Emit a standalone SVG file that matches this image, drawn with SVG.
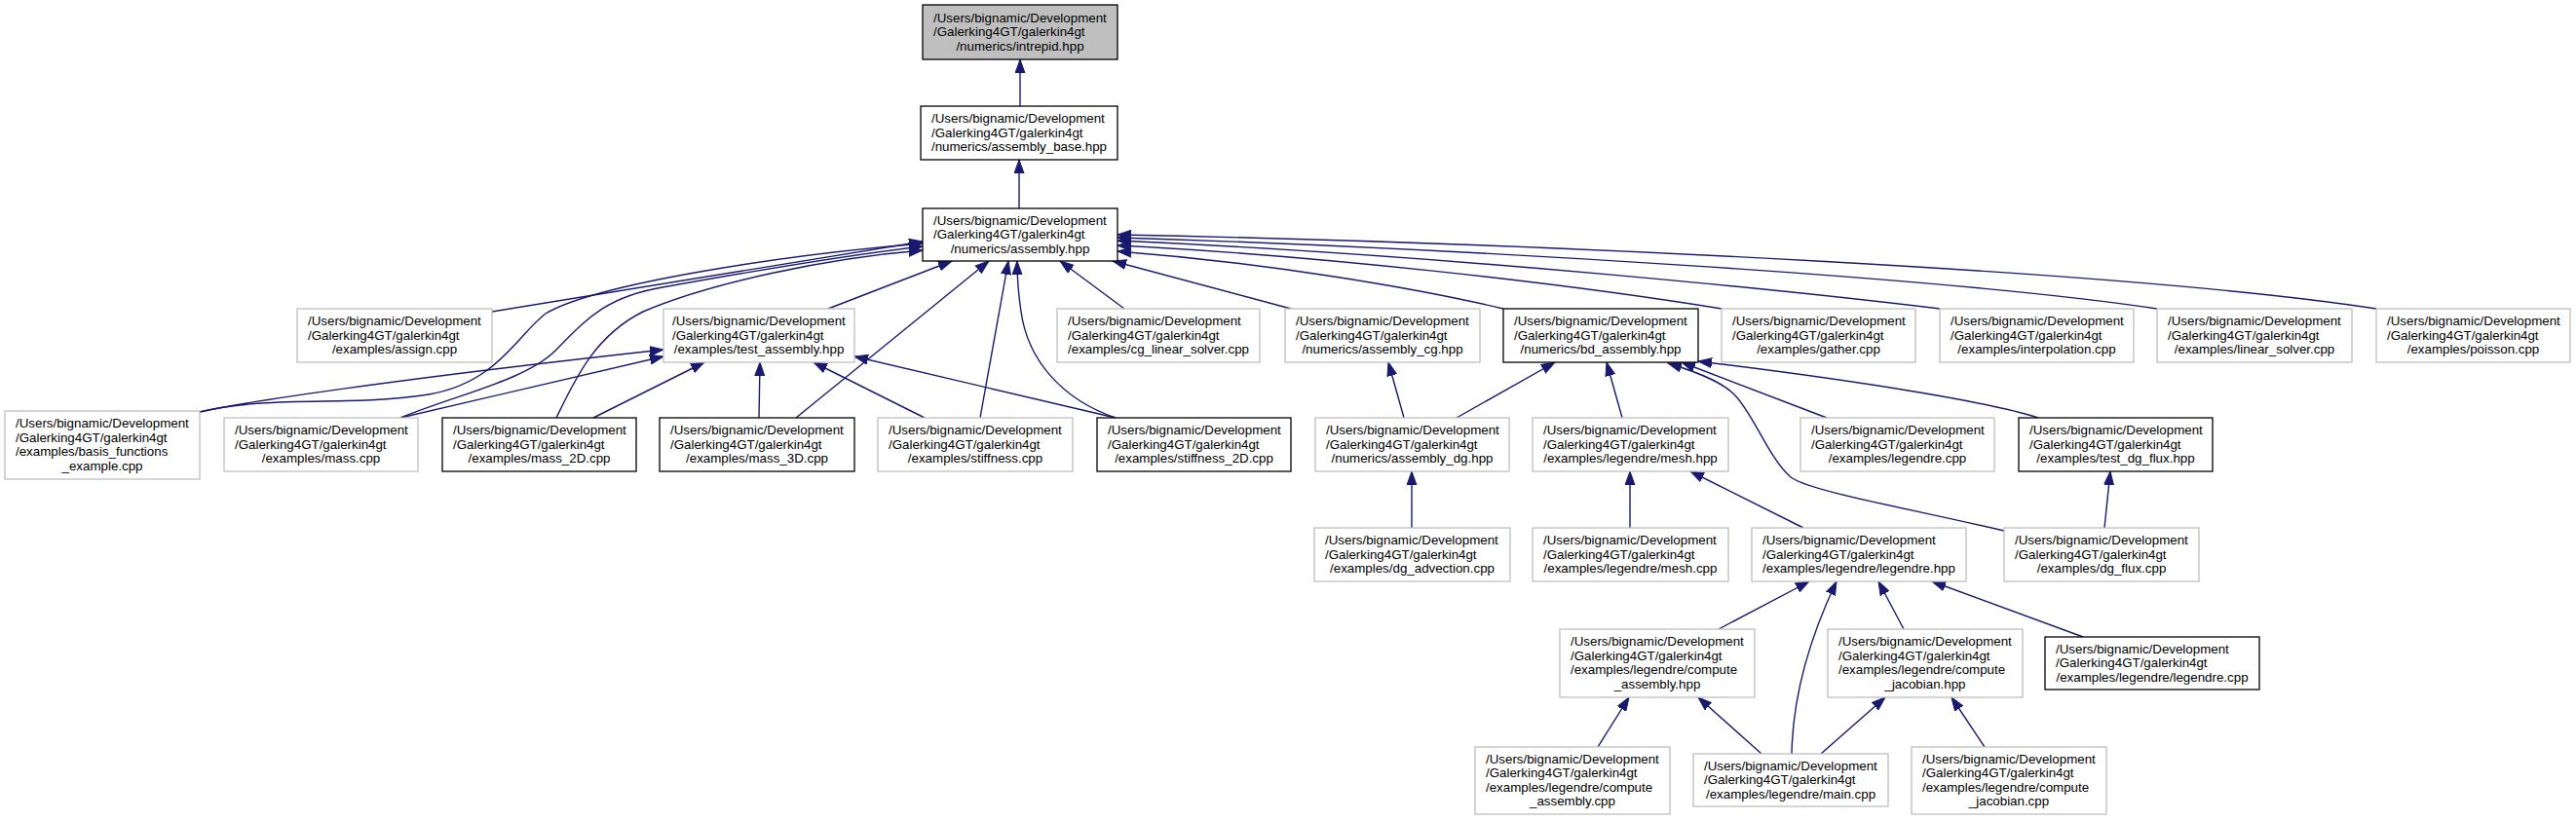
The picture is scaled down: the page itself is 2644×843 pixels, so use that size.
<svg xmlns="http://www.w3.org/2000/svg" width="2644" height="843" viewBox="0 0 2644 843">
<style>
rect{fill:#fff;stroke-width:1.3}
.nb rect{stroke:#000}
.ng rect{stroke:#bfbfbf}
text{font-family:"Liberation Sans",Arial,Helvetica,sans-serif;font-size:13.33px;fill:#000}
.c{text-anchor:middle}
#edges path{fill:none;stroke:#191970;stroke-width:1.4;marker-end:url(#a)}
</style>
<defs>
<marker id="a" markerUnits="userSpaceOnUse" markerWidth="15" markerHeight="11" viewBox="0 0 15 11" refX="14" refY="5.5" orient="auto">
<path d="M0,0.5 L14,5.5 L0,10.5 z" fill="#191970" stroke="#191970" stroke-width="1"/>
</marker>
</defs>
<rect x="0" y="0" width="2644" height="843" style="fill:#fff;stroke:none"/>
<g id="edges">
<path d="M1047,109 L1047,61"/>
<path d="M1046,214 L1046,164"/>
<path d="M505,320 L947,248"/>
<path d="M205,423 C280,405 360,418 440,405 C510,393 530,345 560,322 C610,292 800,262 947,250"/>
<path d="M411,429 C470,405 540,390 570,360 C600,330 620,305 680,295 C780,277 870,262 947,253"/>
<path d="M571,429 C590,390 610,345 660,320 C730,290 850,265 947,257"/>
<path d="M850,317 L977,268"/>
<path d="M817,429 L1015,268"/>
<path d="M1006,429 L1035,268"/>
<path d="M1145,429 C1090,410 1055,370 1048,320 C1045,300 1044,285 1044,268"/>
<path d="M1154,317 L1088,268"/>
<path d="M1325,317 L1142,268"/>
<path d="M1543,317 C1450,295 1300,270 1147,258"/>
<path d="M1767,317 C1600,290 1350,262 1147,252"/>
<path d="M1991,317 C1850,300 1500,263 1147,247"/>
<path d="M2214,317 C2000,285 1500,255 1147,244"/>
<path d="M2439,317 C2200,280 1600,250 1147,241"/>
<path d="M205,423 C250,413 400,390 681,359"/>
<path d="M411,429 L681,366"/>
<path d="M609,429 L723,372"/>
<path d="M779,429 L780,372"/>
<path d="M949,429 L835,372"/>
<path d="M1145,429 L877,366"/>
<path d="M1441,429 L1425,372"/>
<path d="M1495,429 L1596,372"/>
<path d="M1665,429 L1649,372"/>
<path d="M1875,429 L1726,372"/>
<path d="M2092,429 C2040,412 1900,390 1743,371"/>
<path d="M2057,545 C1950,520 1860,505 1838,490 C1815,470 1800,425 1780,405 C1765,390 1735,380 1712,373"/>
<path d="M1449,542 L1449,484"/>
<path d="M1673,542 L1673,484"/>
<path d="M1851,542 L1735,484"/>
<path d="M2160,542 L2166,484"/>
<path d="M1764,646 L1857,597"/>
<path d="M1839,774 C1840,720 1855,660 1885,597"/>
<path d="M1954,646 L1928,597"/>
<path d="M2138,654 L1983,597"/>
<path d="M1640,767 L1672,716"/>
<path d="M1808,774 L1743,716"/>
<path d="M1869,774 L1935,716"/>
<path d="M2037,767 L2003,716"/>
</g>

<g id="n_intrepid" class="nb"><rect x="947" y="5" width="200" height="56" style="fill:#bfbfbf"/><text><tspan x="958" y="22.5">/Users/bignamic/Development</tspan><tspan x="958" y="37">/Galerking4GT/galerkin4gt</tspan><tspan class="c" x="1047" y="51.5">/numerics/intrepid.hpp</tspan></text></g>
<g id="n_assembly_base" class="nb"><rect x="945" y="109" width="202" height="55"/><text><tspan x="956" y="126">/Users/bignamic/Development</tspan><tspan x="956" y="140.5">/Galerking4GT/galerkin4gt</tspan><tspan class="c" x="1046" y="155">/numerics/assembly_base.hpp</tspan></text></g>
<g id="n_assembly" class="nb"><rect x="947" y="214" width="200" height="54"/><text><tspan x="958" y="230.5">/Users/bignamic/Development</tspan><tspan x="958" y="245">/Galerking4GT/galerkin4gt</tspan><tspan class="c" x="1047" y="259.5">/numerics/assembly.hpp</tspan></text></g>

<g id="n_assign" class="ng"><rect x="305" y="317" width="200" height="55"/><text><tspan x="316" y="334">/Users/bignamic/Development</tspan><tspan x="316" y="348.5">/Galerking4GT/galerkin4gt</tspan><tspan class="c" x="405" y="363">/examples/assign.cpp</tspan></text></g>
<g id="n_test_assembly" class="ng"><rect x="681" y="317" width="196" height="55"/><text><tspan x="690" y="334">/Users/bignamic/Development</tspan><tspan x="690" y="348.5">/Galerking4GT/galerkin4gt</tspan><tspan class="c" x="779" y="363">/examples/test_assembly.hpp</tspan></text></g>
<g id="n_cg_linear_solver" class="ng"><rect x="1085" y="317" width="208" height="55"/><text><tspan x="1096" y="334">/Users/bignamic/Development</tspan><tspan x="1096" y="348.5">/Galerking4GT/galerkin4gt</tspan><tspan class="c" x="1189" y="363">/examples/cg_linear_solver.cpp</tspan></text></g>
<g id="n_assembly_cg" class="ng"><rect x="1319" y="317" width="200" height="55"/><text><tspan x="1330" y="334">/Users/bignamic/Development</tspan><tspan x="1330" y="348.5">/Galerking4GT/galerkin4gt</tspan><tspan class="c" x="1419" y="363">/numerics/assembly_cg.hpp</tspan></text></g>
<g id="n_bd_assembly" class="nb"><rect x="1543" y="317" width="200" height="55"/><text><tspan x="1554" y="334">/Users/bignamic/Development</tspan><tspan x="1554" y="348.5">/Galerking4GT/galerkin4gt</tspan><tspan class="c" x="1643" y="363">/numerics/bd_assembly.hpp</tspan></text></g>
<g id="n_gather" class="ng"><rect x="1767" y="317" width="199" height="55"/><text><tspan x="1778" y="334">/Users/bignamic/Development</tspan><tspan x="1778" y="348.5">/Galerking4GT/galerkin4gt</tspan><tspan class="c" x="1866.5" y="363">/examples/gather.cpp</tspan></text></g>
<g id="n_interpolation" class="ng"><rect x="1991" y="317" width="199" height="55"/><text><tspan x="2002" y="334">/Users/bignamic/Development</tspan><tspan x="2002" y="348.5">/Galerking4GT/galerkin4gt</tspan><tspan class="c" x="2090.5" y="363">/examples/interpolation.cpp</tspan></text></g>
<g id="n_linear_solver" class="ng"><rect x="2214" y="317" width="200" height="55"/><text><tspan x="2225" y="334">/Users/bignamic/Development</tspan><tspan x="2225" y="348.5">/Galerking4GT/galerkin4gt</tspan><tspan class="c" x="2314" y="363">/examples/linear_solver.cpp</tspan></text></g>
<g id="n_poisson" class="ng"><rect x="2439" y="317" width="199" height="55"/><text><tspan x="2450" y="334">/Users/bignamic/Development</tspan><tspan x="2450" y="348.5">/Galerking4GT/galerkin4gt</tspan><tspan class="c" x="2538.5" y="363">/examples/poisson.cpp</tspan></text></g>

<g id="n_basis_functions" class="ng"><rect x="5" y="422" width="200" height="70"/><text><tspan x="16" y="439">/Users/bignamic/Development</tspan><tspan x="16" y="453.5">/Galerking4GT/galerkin4gt</tspan><tspan x="16" y="468">/examples/basis_functions</tspan><tspan class="c" x="105" y="482.5">_example.cpp</tspan></text></g>
<g id="n_mass" class="ng"><rect x="230" y="429" width="199" height="55"/><text><tspan x="241" y="446">/Users/bignamic/Development</tspan><tspan x="241" y="460.5">/Galerking4GT/galerkin4gt</tspan><tspan class="c" x="329.5" y="475">/examples/mass.cpp</tspan></text></g>
<g id="n_mass_2D" class="nb"><rect x="454" y="429" width="199" height="55"/><text><tspan x="465" y="446">/Users/bignamic/Development</tspan><tspan x="465" y="460.5">/Galerking4GT/galerkin4gt</tspan><tspan class="c" x="553.5" y="475">/examples/mass_2D.cpp</tspan></text></g>
<g id="n_mass_3D" class="nb"><rect x="677" y="429" width="200" height="55"/><text><tspan x="688" y="446">/Users/bignamic/Development</tspan><tspan x="688" y="460.5">/Galerking4GT/galerkin4gt</tspan><tspan class="c" x="777" y="475">/examples/mass_3D.cpp</tspan></text></g>
<g id="n_stiffness" class="ng"><rect x="901" y="429" width="200" height="55"/><text><tspan x="912" y="446">/Users/bignamic/Development</tspan><tspan x="912" y="460.5">/Galerking4GT/galerkin4gt</tspan><tspan class="c" x="1001" y="475">/examples/stiffness.cpp</tspan></text></g>
<g id="n_stiffness_2D" class="nb"><rect x="1126" y="429" width="199" height="55"/><text><tspan x="1137" y="446">/Users/bignamic/Development</tspan><tspan x="1137" y="460.5">/Galerking4GT/galerkin4gt</tspan><tspan class="c" x="1225.5" y="475">/examples/stiffness_2D.cpp</tspan></text></g>
<g id="n_assembly_dg" class="ng"><rect x="1350" y="429" width="199" height="55"/><text><tspan x="1361" y="446">/Users/bignamic/Development</tspan><tspan x="1361" y="460.5">/Galerking4GT/galerkin4gt</tspan><tspan class="c" x="1449.5" y="475">/numerics/assembly_dg.hpp</tspan></text></g>
<g id="n_mesh_hpp" class="ng"><rect x="1573" y="429" width="201" height="55"/><text><tspan x="1584" y="446">/Users/bignamic/Development</tspan><tspan x="1584" y="460.5">/Galerking4GT/galerkin4gt</tspan><tspan class="c" x="1673.5" y="475">/examples/legendre/mesh.hpp</tspan></text></g>
<g id="n_legendre_cpp" class="ng"><rect x="1848" y="429" width="199" height="55"/><text><tspan x="1859" y="446">/Users/bignamic/Development</tspan><tspan x="1859" y="460.5">/Galerking4GT/galerkin4gt</tspan><tspan class="c" x="1947.5" y="475">/examples/legendre.cpp</tspan></text></g>
<g id="n_test_dg_flux" class="nb"><rect x="2072" y="429" width="199" height="55"/><text><tspan x="2083" y="446">/Users/bignamic/Development</tspan><tspan x="2083" y="460.5">/Galerking4GT/galerkin4gt</tspan><tspan class="c" x="2171.5" y="475">/examples/test_dg_flux.hpp</tspan></text></g>

<g id="n_dg_advection" class="ng"><rect x="1349" y="542" width="201" height="55"/><text><tspan x="1360" y="559">/Users/bignamic/Development</tspan><tspan x="1360" y="573.5">/Galerking4GT/galerkin4gt</tspan><tspan class="c" x="1449.5" y="588">/examples/dg_advection.cpp</tspan></text></g>
<g id="n_mesh_cpp" class="ng"><rect x="1573" y="542" width="201" height="55"/><text><tspan x="1584" y="559">/Users/bignamic/Development</tspan><tspan x="1584" y="573.5">/Galerking4GT/galerkin4gt</tspan><tspan class="c" x="1673.5" y="588">/examples/legendre/mesh.cpp</tspan></text></g>
<g id="n_legendre_hpp" class="ng"><rect x="1798" y="542" width="220" height="55"/><text><tspan x="1809" y="559">/Users/bignamic/Development</tspan><tspan x="1809" y="573.5">/Galerking4GT/galerkin4gt</tspan><tspan class="c" x="1908" y="588">/examples/legendre/legendre.hpp</tspan></text></g>
<g id="n_dg_flux" class="ng"><rect x="2057" y="542" width="200" height="55"/><text><tspan x="2068" y="559">/Users/bignamic/Development</tspan><tspan x="2068" y="573.5">/Galerking4GT/galerkin4gt</tspan><tspan class="c" x="2157" y="588">/examples/dg_flux.cpp</tspan></text></g>

<g id="n_compute_assembly_hpp" class="ng"><rect x="1601" y="646" width="200" height="70"/><text><tspan x="1612" y="663">/Users/bignamic/Development</tspan><tspan x="1612" y="677.5">/Galerking4GT/galerkin4gt</tspan><tspan x="1612" y="692">/examples/legendre/compute</tspan><tspan class="c" x="1701" y="706.5">_assembly.hpp</tspan></text></g>
<g id="n_compute_jacobian_hpp" class="ng"><rect x="1876" y="646" width="200" height="70"/><text><tspan x="1887" y="663">/Users/bignamic/Development</tspan><tspan x="1887" y="677.5">/Galerking4GT/galerkin4gt</tspan><tspan x="1887" y="692">/examples/legendre/compute</tspan><tspan class="c" x="1976" y="706.5">_jacobian.hpp</tspan></text></g>
<g id="n_legendre_legendre_cpp" class="nb"><rect x="2099" y="654" width="220" height="54"/><text><tspan x="2110" y="670.5">/Users/bignamic/Development</tspan><tspan x="2110" y="685">/Galerking4GT/galerkin4gt</tspan><tspan class="c" x="2209" y="699.5">/examples/legendre/legendre.cpp</tspan></text></g>

<g id="n_compute_assembly_cpp" class="ng"><rect x="1514" y="767" width="200" height="69"/><text><tspan x="1525" y="783.5">/Users/bignamic/Development</tspan><tspan x="1525" y="798">/Galerking4GT/galerkin4gt</tspan><tspan x="1525" y="812.5">/examples/legendre/compute</tspan><tspan class="c" x="1614" y="827">_assembly.cpp</tspan></text></g>
<g id="n_main_cpp" class="ng"><rect x="1738" y="774" width="200" height="54"/><text><tspan x="1749" y="790.5">/Users/bignamic/Development</tspan><tspan x="1749" y="805">/Galerking4GT/galerkin4gt</tspan><tspan class="c" x="1838" y="819.5">/examples/legendre/main.cpp</tspan></text></g>
<g id="n_compute_jacobian_cpp" class="ng"><rect x="1962" y="767" width="200" height="69"/><text><tspan x="1973" y="783.5">/Users/bignamic/Development</tspan><tspan x="1973" y="798">/Galerking4GT/galerkin4gt</tspan><tspan x="1973" y="812.5">/examples/legendre/compute</tspan><tspan class="c" x="2062" y="827">_jacobian.cpp</tspan></text></g>
</svg>
